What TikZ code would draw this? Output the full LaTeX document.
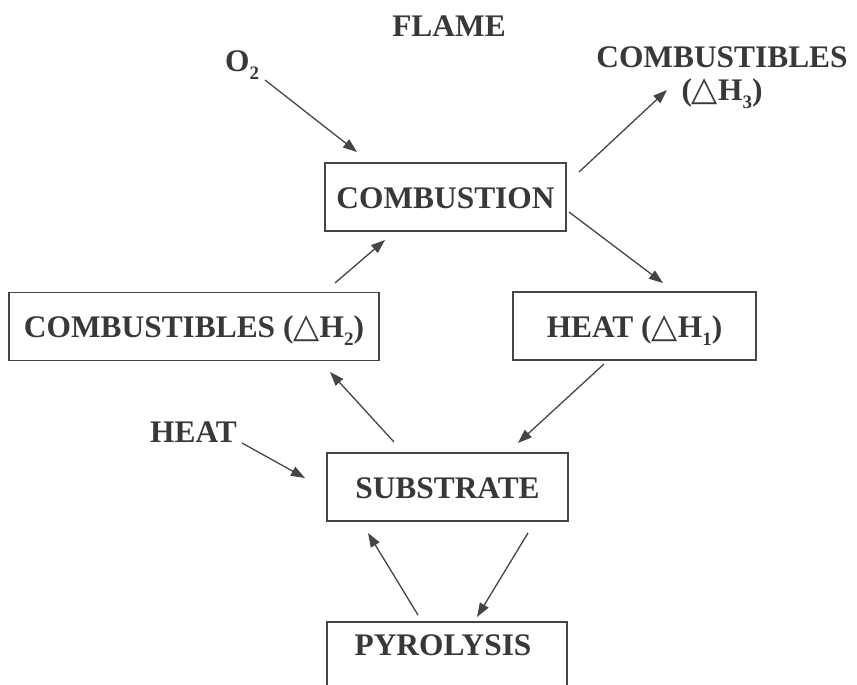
\documentclass[tikz,border=0pt]{standalone}
\usepackage{fontspec}
\setmainfont{Liberation Serif}
\newfontfamily\symfont{DejaVu Sans}
\usetikzlibrary{arrows.meta}
\definecolor{ink}{HTML}{383838}
\definecolor{linec}{HTML}{454545}
\newcommand{\subsc}[1]{\raisebox{-8pt}{\fontsize{19}{19}\selectfont #1}}
\newcommand{\dH}[1]{({\symfont\fontsize{34}{34}\selectfont △}H\subsc{#1})}
\begin{document}
\begin{tikzpicture}[x=1pt,y=-1pt,
  every node/.style={text=ink,font=\fontsize{31.4}{34}\selectfont\bfseries,inner sep=0pt},
  box/.style={draw=linec,line width=1.4pt,text height=22pt,text depth=0pt,minimum height=68pt},
  lbl/.style={text height=22pt,text depth=0pt},
  conn/.style={draw=linec,line width=1.3pt,-{Triangle[length=14pt,width=10pt]}}]
\useasboundingbox[fill=white] (0,0) rectangle (857,685);
\clip (0,0) rectangle (857,685);
% labels
\node[lbl,anchor=base] (flame) at (449,37) {FLAME};
\node[lbl,anchor=base west] (o2) at (225,72) {O\subsc{2}};
\node[lbl,anchor=base] (comb3a) at (722,68) {COMBUSTIBLES};
\node[lbl,anchor=base] (comb3b) at (722,100) {\dH{3}};
\node[lbl,anchor=base west] (heatin) at (150,442) {HEAT};
% boxes
\node[box,minimum width=241pt] (comb) at (445.5,197) {COMBUSTION};
\node[box,minimum width=370pt] (comb2) at (194,326.5) {COMBUSTIBLES \dH{2}};
\node[box,minimum width=243pt] (heat1) at (634.5,326) {HEAT \dH{1}};
\node[box,minimum width=241pt] (sub) at (447.5,487) {SUBSTRATE};
\node[lbl] (pyro) at (443,644.5) {PYROLYSIS};
\draw[linec,line width=1.4pt] (327,700) |- (567,622) -- (567,700);
% connector end points
\coordinate (a1s) at (265,80);  \coordinate (a1e) at (357,152);
\coordinate (a2s) at (579,172); \coordinate (a2e) at (667,90);
\coordinate (a3s) at (569,212); \coordinate (a3e) at (663,283);
\coordinate (a4s) at (335,283); \coordinate (a4e) at (385,240);
\coordinate (a5s) at (604,364); \coordinate (a5e) at (518,443);
\coordinate (a6s) at (394,442); \coordinate (a6e) at (330,372);
\coordinate (a7s) at (242,443); \coordinate (a7e) at (305,478);
\coordinate (a8s) at (418,615); \coordinate (a8e) at (368,533);
\coordinate (a9s) at (528,533); \coordinate (a9e) at (477,617);
\draw[conn] (a1s) -- (a1e);
\draw[conn] (a2s) -- (a2e);
\draw[conn] (a3s) -- (a3e);
\draw[conn] (a4s) -- (a4e);
\draw[conn] (a5s) -- (a5e);
\draw[conn] (a6s) -- (a6e);
\draw[conn] (a7s) -- (a7e);
\draw[conn] (a8s) -- (a8e);
\draw[conn] (a9s) -- (a9e);
\end{tikzpicture}
\end{document}
